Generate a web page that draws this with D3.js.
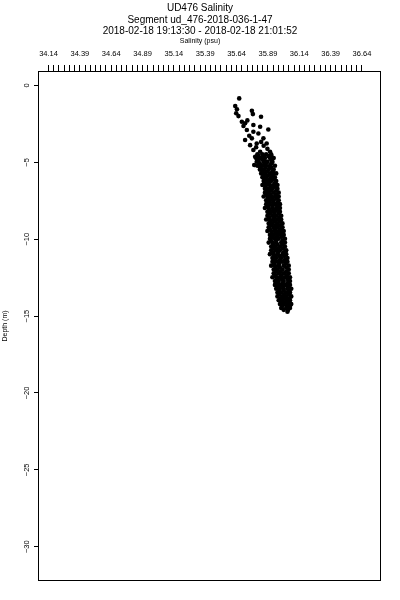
<!DOCTYPE html>
<html>
<head>
<meta charset="utf-8">
<script src="https://d3js.org/d3.v7.min.js"></script>
<style>
  body { margin: 0; background: #fff; }
  svg { display: block; font-family: "Liberation Sans", Arial, Helvetica, sans-serif; will-change: transform; }
</style>
</head>
<body>
<div id="chart"></div>
<script>
// titles
const titleLines = ["UD476 Salinity", "Segment ud_476-2018-036-1-47", "2018-02-18 19:13:30 - 2018-02-18 21:01:52"];
const xLabel = "Salinity (psu)";
const yLabel = "Depth (m)";

// axis ticks
const xTickLabels = ["34.14", "34.39", "34.64", "34.89", "35.14", "35.39", "35.64", "35.89", "36.14", "36.39", "36.64"];
const yTickValues = [0, -5, -10, -15, -20, -25, -30];

// scattered points near the surface
const surfaceDepth = [-0.87, -1.37, -1.58, -1.84, -2.02, -1.67, -1.89, -2.06, -2.39, -2.49, -2.67, -2.60, -2.71, -2.89,
  -2.93, -3.04, -3.15, -3.58, -3.47, -3.47, -3.91, -3.80, -3.80, -4.23, -4.34, -4.34, -4.67, -4.67, -4.67, -4.99,
  -4.99, -5.32, -5.32, -5.20, -3.30, -3.70, -4.05, -2.30, -3.95, -4.15];
const surfaceSalinity = [35.665, 35.633, 35.647, 35.641, 35.659, 35.766, 35.774, 35.839, 35.686, 35.712, 35.699, 35.778,
  35.832, 35.897, 35.726, 35.778, 35.818, 35.712, 35.766, 35.858, 35.752, 35.805, 35.884, 35.778, 35.832, 35.911,
  35.792, 35.858, 35.924, 35.805, 35.884, 35.832, 35.911, 35.785, 35.745, 35.84, 35.80, 35.73, 35.86, 35.89];

// dense band, one row of salinity values per depth
const bandDepth = [-4.50, -4.75, -5.00, -5.25, -5.50, -5.75, -6.00, -6.25, -6.50, -6.75, -7.00, -7.25, -7.50, -7.75,
  -8.00, -8.25, -8.50, -8.75, -9.00, -9.25, -9.50, -9.75, -10.00, -10.25, -10.50, -10.75, -11.00, -11.25, -11.50,
  -11.75, -12.00, -12.25, -12.50, -12.75, -13.00, -13.25, -13.50, -13.75, -14.00, -14.25, -14.50, -14.75];
const bandSalinity = [
  [35.81, 35.85, 35.88, 35.92],
  [35.80, 35.84, 35.87, 35.91, 35.94],
  [35.82, 35.86, 35.89, 35.93],
  [35.81, 35.85, 35.88, 35.91, 35.95],
  [35.83, 35.86, 35.90, 35.94],
  [35.84, 35.87, 35.91, 35.94, 35.96],
  [35.85, 35.88, 35.92, 35.95],
  [35.86, 35.89, 35.92, 35.96],
  [35.85, 35.88, 35.91, 35.94, 35.97],
  [35.87, 35.90, 35.93, 35.97],
  [35.87, 35.90, 35.94, 35.98],
  [35.86, 35.89, 35.92, 35.95, 35.98],
  [35.88, 35.91, 35.94, 35.98],
  [35.88, 35.91, 35.95, 35.99],
  [35.87, 35.90, 35.93, 35.96, 35.99],
  [35.89, 35.92, 35.95, 35.99],
  [35.89, 35.93, 35.96, 36.00],
  [35.88, 35.91, 35.94, 35.97, 36.00],
  [35.90, 35.93, 35.97, 36.01],
  [35.90, 35.94, 35.97, 36.01],
  [35.89, 35.92, 35.95, 35.98, 36.02],
  [35.91, 35.94, 35.98, 36.02],
  [35.91, 35.95, 35.98, 36.03],
  [35.90, 35.93, 35.96, 36.00, 36.03],
  [35.92, 35.95, 35.99, 36.03],
  [35.92, 35.96, 35.99, 36.04],
  [35.91, 35.94, 35.97, 36.01, 36.04],
  [35.93, 35.96, 36.00, 36.05],
  [35.93, 35.97, 36.01, 36.05],
  [35.92, 35.95, 35.98, 36.02, 36.06],
  [35.94, 35.97, 36.01, 36.06],
  [35.94, 35.98, 36.02, 36.06],
  [35.93, 35.96, 35.99, 36.03, 36.07],
  [35.95, 35.98, 36.02, 36.07],
  [35.95, 35.99, 36.03, 36.07],
  [35.96, 35.99, 36.02, 36.05, 36.08],
  [35.97, 36.00, 36.04, 36.07],
  [35.97, 36.01, 36.04, 36.08],
  [35.98, 36.01, 36.05, 36.07],
  [35.99, 36.02, 36.05, 36.08],
  [36.00, 36.04, 36.07],
  [36.05]
];

// in-between rows of the band
const midDepth = [-4.625, -4.875, -5.125, -5.375, -5.625, -5.875, -6.125, -6.375, -6.625, -6.875, -7.125, -7.375,
  -7.625, -7.875, -8.125, -8.375, -8.625, -8.875, -9.125, -9.375, -9.625, -9.875, -10.125, -10.375, -10.625,
  -10.875, -11.125, -11.375, -11.625, -11.875, -12.125, -12.375, -12.625, -12.875, -13.125, -13.375, -13.625,
  -13.875, -14.125, -14.375, -14.625];
const midSalinity = [
  [35.82, 35.86, 35.90], [35.82, 35.855, 35.92], [35.83, 35.87, 35.92], [35.835, 35.875, 35.92],
  [35.85, 35.885, 35.93], [35.86, 35.895, 35.93], [35.87, 35.905, 35.94], [35.865, 35.90, 35.95],
  [35.875, 35.915, 35.95], [35.885, 35.92, 35.96], [35.88, 35.915, 35.96], [35.895, 35.93, 35.965],
  [35.90, 35.935, 35.97], [35.895, 35.93, 35.975], [35.905, 35.94, 35.975], [35.91, 35.945, 35.98],
  [35.905, 35.945, 35.985], [35.915, 35.95, 35.99], [35.92, 35.955, 35.99], [35.91, 35.95, 35.995],
  [35.925, 35.96, 36.00], [35.93, 35.965, 36.005], [35.92, 35.96, 36.01], [35.935, 35.97, 36.01],
  [35.94, 35.975, 36.015], [35.935, 35.975, 36.02], [35.945, 35.985, 36.025], [35.95, 35.99, 36.03],
  [35.945, 35.985, 36.035], [35.955, 35.99, 36.04], [35.96, 35.995, 36.04], [35.955, 36.00, 36.045],
  [35.965, 36.005, 36.05], [35.97, 36.01, 36.05], [35.975, 36.015, 36.055], [35.985, 36.02, 36.06],
  [35.985, 36.025, 36.06], [35.995, 36.03, 36.065], [36.00, 36.035, 36.065], [36.01, 36.045, 36.07],
  [36.02, 36.055]
];

let points = surfaceDepth.map((d, i) => ({depth: d, sal: surfaceSalinity[i]}));
bandDepth.forEach((d, i) => {
  bandSalinity[i].forEach(s => points.push({depth: d, sal: s}));
});
midDepth.forEach((d, i) => {
  midSalinity[i].forEach(s => points.push({depth: d, sal: s}));
});

const width = 400, height = 600;
const plot = {left: 38.5, right: 380.5, top: 71.5, bottom: 580.5};

let svg = d3.select("#chart")
  .append("svg")
  .attr("width", width)
  .attr("height", height);

let x = d3.scaleLinear()
  .domain([34.064, 36.792])
  .range([plot.left, plot.right]);
let y = d3.scaleLinear()
  .domain([0.88, -32.23])
  .range([plot.top, plot.bottom]);

// titles
svg.selectAll("text.title")
  .data(titleLines)
  .enter().append("text")
    .attr("class", "title")
    .attr("x", 200)
    .attr("y", (d, i) => 11 + i * 11.5)
    .attr("text-anchor", "middle")
    .attr("font-size", "10px")
    .text(d => d);

svg.append("text")
  .attr("x", 200)
  .attr("y", 43)
  .attr("text-anchor", "middle")
  .attr("font-size", "7px")
  .text(xLabel);

// top axis: minor ticks then labels
let majorVals = xTickLabels.map(Number);
let minorVals = [];
for (let i = 0; i < majorVals.length - 1; i++) {
  for (let k = 0; k < 6; k++) minorVals.push(majorVals[i] + k * 0.25 / 6);
}
minorVals.push(majorVals[majorVals.length - 1]);

let xMinor = svg.append("g")
  .attr("transform", "translate(0," + (plot.top - 1) + ")")
  .call(d3.axisTop(x).tickValues(minorVals).tickSize(6).tickFormat(""));
xMinor.select(".domain").remove();
xMinor.selectAll("line").attr("stroke", "#000").attr("shape-rendering", "crispEdges");

let xMajor = svg.append("g")
  .attr("transform", "translate(0," + (plot.top - 1) + ")")
  .call(d3.axisTop(x).tickValues(majorVals).tickSize(0).tickPadding(15)
    .tickFormat((d, i) => xTickLabels[i]));
xMajor.select(".domain").remove();
xMajor.selectAll("text").attr("font-size", "7.5px").attr("fill", "#000")
  .attr("font-family", "'Liberation Sans', Arial, sans-serif");

// left axis
let yAxis = svg.append("g")
  .attr("transform", "translate(" + plot.left + ",0)")
  .call(d3.axisLeft(y).tickValues(yTickValues).tickSize(5).tickFormat(d3.format("d")));
yAxis.select(".domain").remove();
yAxis.selectAll("line").attr("stroke", "#000").attr("shape-rendering", "crispEdges");
yAxis.selectAll("text")
  .attr("transform", "rotate(-90)")
  .attr("x", 0)
  .attr("y", -10)
  .attr("dy", 0)
  .attr("text-anchor", "middle")
  .attr("font-size", "7.5px")
  .attr("fill", "#000")
  .attr("font-family", "'Liberation Sans', Arial, sans-serif");

svg.append("text")
  .attr("transform", "translate(7," + ((plot.top + plot.bottom) / 2) + ") rotate(-90)")
  .attr("text-anchor", "middle")
  .attr("font-size", "7px")
  .text(yLabel);

// frame
svg.append("rect")
  .attr("x", plot.left)
  .attr("y", plot.top)
  .attr("width", plot.right - plot.left)
  .attr("height", plot.bottom - plot.top)
  .attr("fill", "none")
  .attr("stroke", "#000")
  .attr("stroke-width", 1);

// points
svg.append("g")
  .selectAll("circle")
  .data(points)
  .enter().append("circle")
    .attr("cx", d => x(d.sal))
    .attr("cy", d => y(d.depth))
    .attr("r", 2.3)
    .attr("fill", "#000");
</script>
</body>
</html>
